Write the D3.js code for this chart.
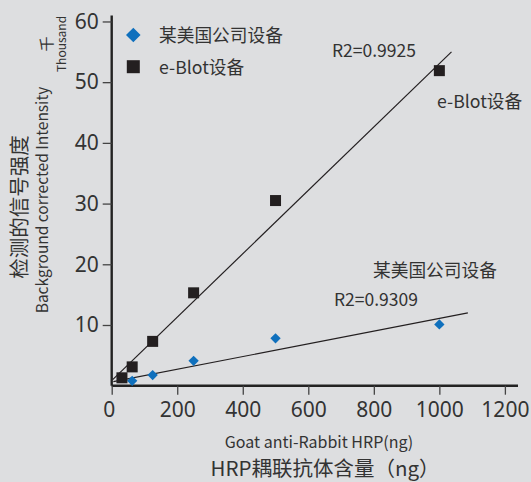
<!DOCTYPE html>
<html><head><meta charset="utf-8">
<script src="https://cdn.jsdelivr.net/npm/d3@7"></script>
<style>
html,body{margin:0;padding:0;background:#dddee0;}
svg{display:block;font-family:"Noto Sans CJK SC","Noto Sans",sans-serif;}
</style></head>
<body>
<svg id="chart" width="531" height="482"></svg>
<script>
// ---- data ----
const amounts = [31.25, 62.5, 125, 250, 500, 1000];
const eBlotValues = [1.3, 3.1, 7.3, 15.3, 30.5, 51.9];
const usAmounts = [62.5, 125, 250, 500, 1000];
const usValues = [0.8, 1.75, 4.1, 7.8, 10.1];
const eBlotTrend = [[3, 1.0], [1037, 55.0]];
const usTrend = [[5, 0.66], [1087, 12.0]];
const xTicks = [0, 200, 400, 600, 800, 1000, 1200];
const yTicks = [10, 20, 30, 40, 50, 60];
const seriesNames = ["某美国公司设备", "e-Blot设备"];
const r2Labels = ["R2=0.9309", "R2=0.9925"];

const blue = "#0f70bd", black = "#231f20", textCol = "#333333";
const svg = d3.select("#chart");
const x = d3.scaleLinear().domain([0, 1240]).range([111.7, 518]);
const y = d3.scaleLinear().domain([0, 61]).range([385.7, 15.4]);

// axes
const gx = svg.append("g").attr("transform", `translate(0,${y(0)})`)
  .call(d3.axisBottom(x).tickValues(xTicks).tickSize(9).tickSizeOuter(0).tickPadding(7).tickFormat(d3.format("d")));
const gy = svg.append("g").attr("transform", `translate(${x(0)},0)`)
  .call(d3.axisLeft(y).tickValues(yTicks).tickSize(9).tickSizeOuter(0).tickPadding(4).tickFormat(d3.format("d")));
[gx, gy].forEach(g => {
  g.select(".domain").attr("stroke", "#222").attr("stroke-width", 2.4);
  g.selectAll(".tick line").attr("stroke", "#444").attr("stroke-width", 1.3);
  g.selectAll(".tick text").attr("fill", textCol).attr("font-size", 21)
    .attr("font-family", "'Noto Sans','Noto Sans CJK SC',sans-serif");
});
gx.select(".domain").attr("d", `M${x(0)},0H${x(1240)}`);
gy.select(".domain").attr("d", `M0,${y(0)}V${y(61)}`);
gx.selectAll(".tick text").attr("dx", (d) => d === 0 ? -3 : 0);

// trend lines
const line = d3.line().x(d => x(d[0])).y(d => y(d[1]));
svg.append("path").attr("d", line(eBlotTrend)).attr("stroke", black).attr("stroke-width", 1.2).attr("fill", "none");
svg.append("path").attr("d", line(usTrend)).attr("stroke", black).attr("stroke-width", 1.2).attr("fill", "none");

// points
const diamond = d3.symbol().type(d3.symbolDiamond2).size(68);
const diamondBig = d3.symbol().type(d3.symbolDiamond2).size(135);
svg.selectAll(".dia").data(usAmounts).join("path")
  .attr("d", diamond).attr("fill", blue)
  .attr("transform", (d, i) => `translate(${x(d)},${y(usValues[i])})`);
const sq = 11;
svg.selectAll(".sq").data(amounts).join("rect")
  .attr("x", d => x(d) - sq / 2).attr("y", (d, i) => y(eBlotValues[i]) - sq / 2)
  .attr("width", sq).attr("height", sq).attr("fill", black);

// legend
const lsq = 13;
svg.append("path").attr("d", diamondBig).attr("fill", blue).attr("transform", "translate(133.3,35)");
svg.append("rect").attr("x", 133.3 - lsq / 2).attr("y", 66.7 - lsq / 2).attr("width", lsq).attr("height", lsq).attr("fill", black);
const txt = (s, tx, ty, size, opts = {}) => {
  const t = svg.append("text").attr("x", tx).attr("y", ty).attr("font-size", size)
    .attr("fill", textCol).text(s);
  if (opts.anchor) t.attr("text-anchor", opts.anchor);
  if (opts.rotate) t.attr("transform", `rotate(-90,${tx},${ty})`);
  return t;
};
txt(seriesNames[0], 159, 41.5, 17.7);
txt(seriesNames[1], 159, 73.5, 17.7);

// annotations
txt(r2Labels[1], 332, 56.5, 17.5);
txt(seriesNames[1], 437, 108, 17.7);
txt(seriesNames[0], 373, 276.5, 17.7);
txt(r2Labels[0], 334, 306, 17.5);

// axis titles
txt("Goat anti-Rabbit HRP(ng)", 319, 447.5, 16, {anchor: "middle"});
txt("HRP耦联抗体含量（ng）", 325, 476, 20.5, {anchor: "middle"});
txt("检测的信号强度", 27, 207, 20.5, {anchor: "middle", rotate: true});
txt("Background corrected Intensity", 48, 200, 15.5, {anchor: "middle", rotate: true});
txt("千", 52, 44, 15, {anchor: "middle", rotate: true});
txt("Thousand", 66, 44, 12, {anchor: "middle", rotate: true});
</script>
</body></html>
